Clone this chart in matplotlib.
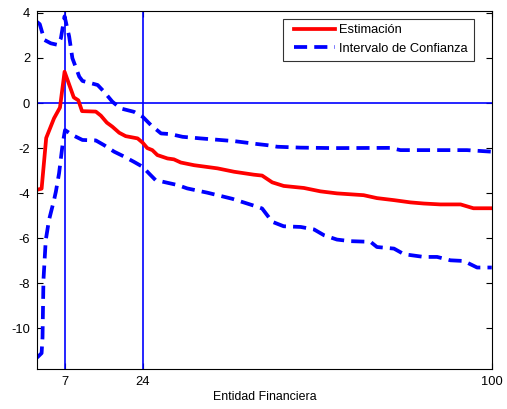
import matplotlib
matplotlib.use("Agg")
import matplotlib.pyplot as plt
from matplotlib.lines import Line2D
from matplotlib.legend_handler import HandlerLine2D

plt.rcParams['font.family'] = ['Liberation Sans', 'DejaVu Sans']
plt.rcParams['axes.unicode_minus'] = False

# estimación
x_est = [1, 2, 3, 4.7, 6, 7, 9, 10, 10.8, 13.8, 14.9, 16.2, 17.4, 18.9, 20.3, 22.9,
         24, 25, 26.1, 27.2, 29.4, 30.8, 32.3, 35.2, 40.3, 43.9, 48.2, 50, 52.2,
         54.7, 59.1, 62.7, 66.3, 72.1, 75, 78.7, 82.3, 85.2, 88.8, 93.2, 96, 100]
est = [-3.85, -3.8, -1.55, -0.68, -0.2, 1.39, 0.25, 0.12, -0.36, -0.38, -0.56, -0.87,
       -1.05, -1.32, -1.47, -1.57, -1.76, -2.0, -2.09, -2.31, -2.46, -2.5, -2.64,
       -2.76, -2.9, -3.05, -3.18, -3.22, -3.52, -3.68, -3.77, -3.92, -4.01, -4.09,
       -4.22, -4.31, -4.41, -4.46, -4.5, -4.5, -4.67, -4.67]

# intervalo de confianza (superior / inferior)
x_sup = [1, 1.6, 2.6, 4, 5.5, 6.2, 7, 8, 8.7, 10.2, 10.9, 14.2, 15.6, 17.4, 19.2,
         22.1, 24, 25.8, 28, 30.1, 32.7, 36.6, 43.9, 48.9, 51.1, 53.3, 58.4, 65.6,
         77.9, 80.1, 94.6, 100]
sup = [3.6, 3.5, 2.8, 2.65, 2.58, 2.87, 3.85, 2.95, 1.99, 1.17, 0.98, 0.8, 0.5, 0.06,
       -0.24, -0.39, -0.61, -0.98, -1.35, -1.38, -1.5, -1.57, -1.69, -1.82, -1.87,
       -1.94, -1.98, -2.0, -1.99, -2.09, -2.09, -2.16]

x_inf = [1, 2, 2.2, 2.4, 2.9, 3.6, 4.7, 5.1, 5.8, 6.6, 7.1, 8.7, 10.9, 13.8, 15.6,
         17.8, 20, 22.1, 24, 25.4, 26.8, 29.4, 31.6, 33.7, 38.1, 43.5, 48.9, 50,
         52.2, 54.7, 58.4, 61.3, 63.5, 66.3, 69.2, 73.6, 75, 78.7, 80.9, 85.2, 88.1,
         91, 93.9, 96.8, 100]
inf = [-11.3, -11.1, -10.4, -7.87, -6.09, -5.2, -4.31, -3.94, -3.12, -1.79, -1.2,
       -1.42, -1.64, -1.66, -1.87, -2.16, -2.38, -2.61, -2.83, -3.13, -3.42, -3.54,
       -3.64, -3.79, -3.98, -4.25, -4.6, -4.68, -5.27, -5.47, -5.5, -5.61, -5.87,
       -6.06, -6.13, -6.16, -6.39, -6.46, -6.71, -6.83, -6.83, -6.98, -7.01, -7.3,
       -7.3]

fig = plt.figure(figsize=(5.07, 4.09), dpi=100)
ax = fig.add_axes([0.073, 0.098, 0.897, 0.876])

ax.axvline(7, color='blue', lw=1.2)
ax.axvline(24, color='blue', lw=1.2)
ax.axhline(0, color='blue', lw=1.2)

ax.plot(x_est, est, color='red', lw=2.7, label='Estimación')
ax.plot(x_sup, sup, color='blue', lw=2.7, dashes=(3.5, 1.9), label='Intervalo de Confianza')
ax.plot(x_inf, inf, color='blue', lw=2.7, dashes=(3.5, 1.9))

ax.set_xlim(1, 100)
ax.set_ylim(-11.8, 4.1)
ax.set_xticks([7, 24, 100])
ax.set_yticks([-10, -8, -6, -4, -2, 0, 2, 4])
ax.tick_params(direction='in', top=True, right=True, labelsize=9.3, length=4, pad=5)
ax.set_xlabel('Entidad Financiera', fontsize=8.9, labelpad=2)

# margen a la izquierda de las muestras de línea
leg = ax.legend(loc='upper right', bbox_to_anchor=(0.960, 0.978), borderaxespad=0,
                fontsize=9.3, frameon=True, fancybox=False, edgecolor='black',
                handlelength=3.6, handletextpad=0.3, borderpad=0.45, labelspacing=0.5,
                handler_map={Line2D: HandlerLine2D(xpad=0.4)})
leg.get_frame().set_linewidth(0.8)

fig.savefig('out.png', dpi=100)
